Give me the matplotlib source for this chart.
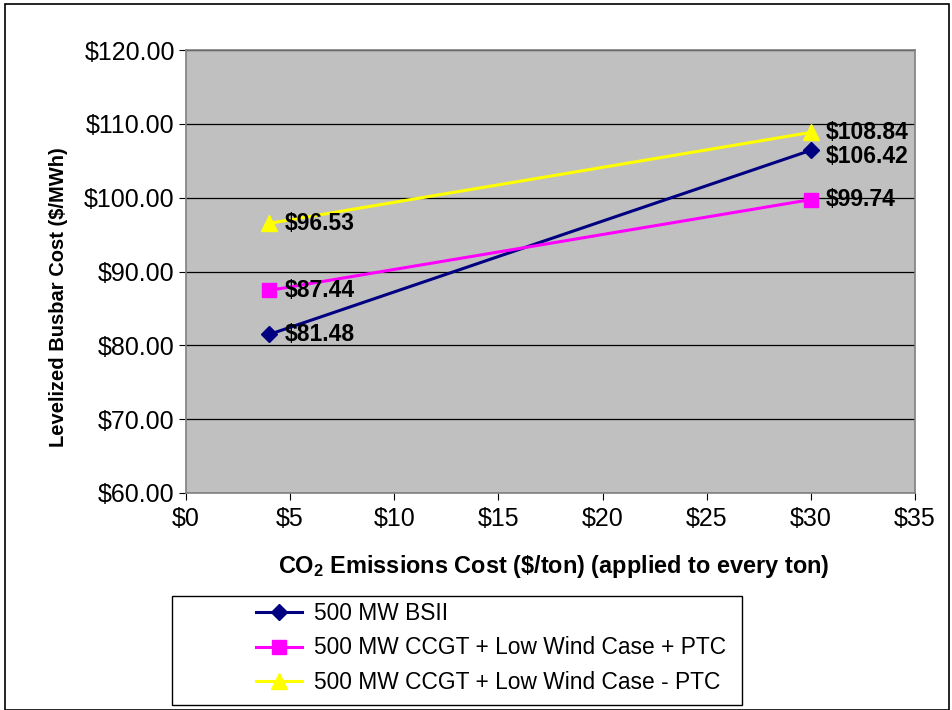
import matplotlib
matplotlib.use("Agg")
import matplotlib.pyplot as plt
from matplotlib.patches import Rectangle
from matplotlib.ticker import FuncFormatter, MultipleLocator

plt.rcParams['font.family'] = ['Liberation Sans', 'DejaVu Sans']
plt.rcParams['mathtext.fontset'] = 'custom'
plt.rcParams['mathtext.rm'] = 'Liberation Sans'
plt.rcParams['mathtext.bf'] = 'Liberation Sans:bold'

co2_cost = [4, 30]
bsii = [81.48, 106.42]
ccgt_ptc = [87.44, 99.74]
ccgt_noptc = [96.53, 108.84]
series_names = ['500 MW BSII',
                '500 MW CCGT + Low Wind Case + PTC',
                '500 MW CCGT + Low Wind Case - PTC']

fig = plt.figure(figsize=(9.53, 7.10), dpi=100)
ax = fig.add_axes([186 / 953, 1 - 493 / 710, 729 / 953, 443 / 710])
ax.set_facecolor('#C0C0C0')

l1, = ax.plot(co2_cost, bsii, color='#000080', lw=2.2, marker='D', ms=8.5,
              label=series_names[0], zorder=3)
l2, = ax.plot(co2_cost, ccgt_ptc, color='#FF00FF', lw=2.2, marker='s', ms=10.5,
              label=series_names[1], zorder=3)
l3, = ax.plot(co2_cost, ccgt_noptc, color='#FFFF00', lw=2.2, marker='^', ms=12,
              label=series_names[2], zorder=3)

# data labels; the BSII one at $30 sits a bit lower so it clears the yellow label
offsets = {0: [(11, 0), (11, -4.5)], 1: [(11, 0), (11, 0)], 2: [(11, 0), (11, 0)]}
for i, ys in enumerate([bsii, ccgt_ptc, ccgt_noptc]):
    for j, (x, y) in enumerate(zip(co2_cost, ys)):
        dx, dy = offsets[i][j]
        ax.annotate(f'${y:.2f}', (x, y), xytext=(dx, dy), textcoords='offset points',
                    ha='left', va='center', fontsize=16.5, fontweight='bold', zorder=4)

ax.set_xlim(0, 35)
ax.set_ylim(60, 120)
ax.xaxis.set_major_locator(MultipleLocator(5))
ax.yaxis.set_major_locator(MultipleLocator(10))
ax.xaxis.set_major_formatter(FuncFormatter(lambda v, p: f'${v:.0f}'))
ax.yaxis.set_major_formatter(FuncFormatter(lambda v, p: f'${v:.2f}'))
ax.grid(axis='y', color='black', lw=0.9)
ax.set_axisbelow(True)
for s in ax.spines.values():
    s.set_color('#808080')
    s.set_linewidth(1.2)
ax.tick_params(labelsize=18, direction='out', length=5, color='black')
ax.tick_params(axis='x', pad=5)
ax.tick_params(axis='y', pad=3)

ax.set_xlabel(r'CO$_\mathbf{2}$ Emissions Cost (\$/ton) (applied to every ton)',
              fontsize=16.9, fontweight='bold')
ax.set_ylabel('Levelized Busbar Cost ($/MWh)', fontsize=14.5, fontweight='bold')
ax.xaxis.label.set_va('center')
ax.yaxis.label.set_va('center')
ax.xaxis.set_label_coords(0.504, (493 - 566) / 443)
ax.yaxis.set_label_coords((58 - 186) / 729, (493 - 297) / 443)

# figure border and legend box
fig.patches.append(Rectangle((5 / 953, 0), 944 / 953, 1 - 4 / 710, transform=fig.transFigure,
                             fill=False, ec='black', lw=1.2))
fig.patches.append(Rectangle((172 / 953, 1 - 705 / 710), 570 / 953, 109 / 710,
                             transform=fig.transFigure, fill=False, ec='black', lw=1))
fig.legend(handles=[l1, l2, l3], loc='center left',
           bbox_to_anchor=(256 / 953, 1 - 648 / 710), frameon=False,
           fontsize=16.4, handlelength=2.0, handletextpad=0.55, labelspacing=0.5,
           borderpad=0, borderaxespad=0)

fig.savefig('out.png', dpi=100)
